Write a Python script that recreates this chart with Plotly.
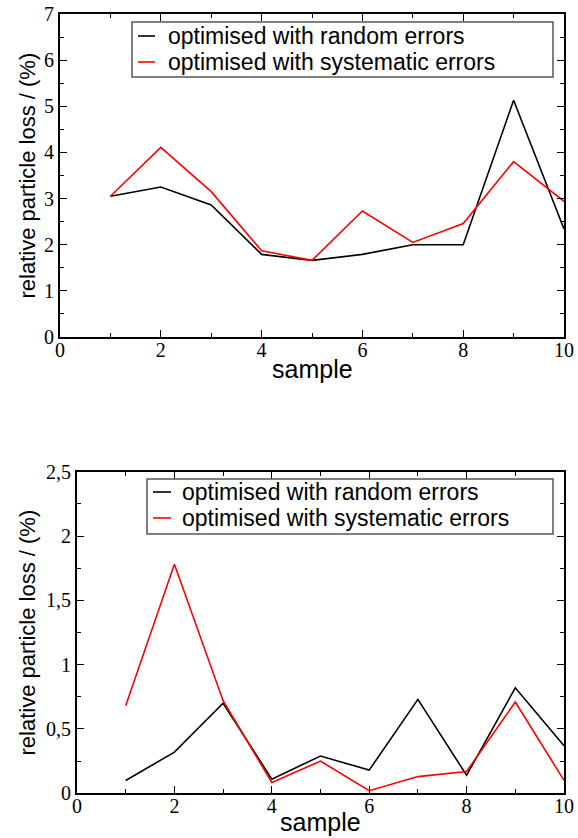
import plotly.graph_objects as go

# sample index shared by both panels
samples = [1, 2, 3, 4, 5, 6, 7, 8, 9, 10]

# upper panel: relative particle loss in %
top_random = [3.05, 3.25, 2.86, 1.79, 1.66, 1.79, 2.00, 2.00, 5.13, 2.34]
top_systematic = [3.05, 4.11, 3.15, 1.87, 1.66, 2.73, 2.05, 2.46, 3.80, 2.94]

# lower panel: relative particle loss in %
bottom_random = [0.10, 0.32, 0.70, 0.11, 0.29, 0.18, 0.73, 0.14, 0.82, 0.37]
bottom_systematic = [0.68, 1.78, 0.72, 0.085, 0.25, 0.02, 0.13, 0.17, 0.71, 0.10]

series_names = ["optimised with random errors", "optimised with systematic errors"]
series_colors = ["#000000", "#ff0000"]
x_title = "sample"
y_title = "relative particle loss / (%)"

W, H = 578, 838
SANS = "Liberation Sans"
SERIF = "Liberation Serif"

fig = go.Figure()

panels = [
    dict(x="x", y="y", data=[top_random, top_systematic]),
    dict(x="x2", y="y2", data=[bottom_random, bottom_systematic]),
]
for p in panels:
    for name, color, vals in zip(series_names, series_colors, p["data"]):
        fig.add_trace(go.Scatter(
            x=samples, y=vals, name=name, mode="lines",
            line=dict(color=color, width=1.6),
            xaxis=p["x"], yaxis=p["y"], showlegend=False,
        ))


def common_axis(rng, dtick, minor, standoff):
    return dict(
        range=rng, dtick=dtick, tick0=0,
        showgrid=False, zeroline=False, showline=True, linecolor="black",
        linewidth=2, mirror="ticks", ticks="inside", ticklen=7, tickwidth=1,
        tickcolor="black",
        tickfont=dict(family=SERIF, size=20, color="black"),
        ticklabelstandoff=standoff,
        minor=dict(dtick=minor, ticks="inside", ticklen=4, tickwidth=1, tickcolor="black"),
        automargin=False,
    )


# pixel boxes of the two plot areas: (left, top, right, bottom)
areas = [(60, 14, 564, 337), (77, 471.7, 564, 793.3)]

fig.update_layout(
    width=W, height=H,
    margin=dict(l=0, r=0, t=0, b=0),
    paper_bgcolor="white", plot_bgcolor="white",
    font=dict(family=SERIF, color="black"),
    separators=",.",
    showlegend=False,
    xaxis=dict(domain=[areas[0][0] / W, areas[0][2] / W], anchor="y", **common_axis([0, 10], 2, 1, -6)),
    yaxis=dict(domain=[1 - areas[0][3] / H, 1 - areas[0][1] / H], anchor="x", **common_axis([0, 7], 1, 0.5, 0)),
    xaxis2=dict(domain=[areas[1][0] / W, areas[1][2] / W], anchor="y2", **common_axis([0, 10], 2, 1, -6)),
    yaxis2=dict(domain=[1 - areas[1][3] / H, 1 - areas[1][1] / H], anchor="x2", **common_axis([0, 2.5], 0.5, 0.25, 0)),
)

shapes = []
annotations = []

# axis titles
for i, (l, t, r, b) in enumerate(areas):
    if i == 0:
        xt_pos = dict(y=1 - (b + 32) / H, yanchor="middle")
    else:
        xt_pos = dict(y=0, yanchor="bottom")
    annotations.append(dict(
        text=x_title, xref="paper", yref="paper",
        x=(l + r) / 2 / W, xanchor="center", **xt_pos,
        showarrow=False, font=dict(family=SANS, size=25, color="black"),
    ))
    annotations.append(dict(
        text=y_title, xref="paper", yref="paper", textangle=-90,
        x=27 / W, y=1 - (t + b) / 2 / H, xanchor="center", yanchor="middle",
        showarrow=False, font=dict(family=SANS, size=22, color="black"),
    ))

# legend boxes drawn in pixel-based paper coordinates
legends = [
    dict(box=(132, 22, 553, 77), rows=(36, 62), line=(138, 155), text_x=166),
    dict(box=(147, 479, 553, 534), rows=(492, 518), line=(153, 171), text_x=180),
]
for lg in legends:
    x0, y0, x1, y1 = lg["box"]
    shapes.append(dict(
        type="rect", xref="paper", yref="paper",
        x0=x0 / W, x1=x1 / W, y0=1 - y1 / H, y1=1 - y0 / H,
        line=dict(color="#555555", width=1.5), fillcolor="white", layer="above",
    ))
    for name, color, ry in zip(series_names, series_colors, lg["rows"]):
        shapes.append(dict(
            type="line", xref="paper", yref="paper",
            x0=lg["line"][0] / W, x1=lg["line"][1] / W,
            y0=1 - ry / H, y1=1 - ry / H,
            line=dict(color=color, width=1.6), layer="above",
        ))
        annotations.append(dict(
            text=name, xref="paper", yref="paper",
            x=lg["text_x"] / W, y=1 - ry / H, xanchor="left", yanchor="middle",
            showarrow=False, font=dict(family=SANS, size=23, color="black"),
        ))

fig.update_layout(shapes=shapes, annotations=annotations)

fig.write_html("out.html")
